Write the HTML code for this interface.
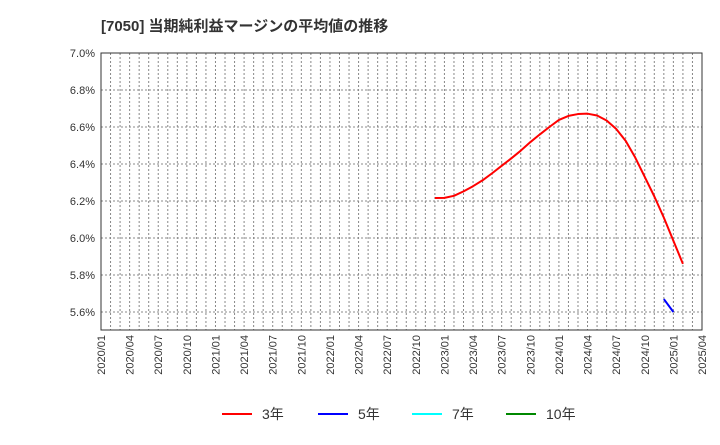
<!DOCTYPE html>
<html><head><meta charset="utf-8"><style>
body{margin:0;background:#fff;font-family:"Liberation Sans","Noto Sans CJK JP",sans-serif;}
</style></head><body>
<svg width="720" height="440" xmlns="http://www.w3.org/2000/svg" font-family="Liberation Sans, Noto Sans CJK JP, sans-serif">
<text x="101" y="31" font-size="15" font-weight="bold" fill="#333">[7050]  当期純利益マージンの平均値の推移</text>
<g id="grid"></g><g id="yt"></g><g id="xt"></g><g id="series"></g>
<rect x="101" y="53" width="601" height="277" fill="none" stroke="#333" stroke-width="1"/>
<g font-size="14" fill="#333">
<g><line x1="222" y1="414" x2="252" y2="414" stroke="#f00" stroke-width="2"/><text x="262" y="419">3年</text></g>
<g><line x1="318" y1="414" x2="348" y2="414" stroke="#00f" stroke-width="2"/><text x="358" y="419">5年</text></g>
<g><line x1="412" y1="414" x2="442" y2="414" stroke="#0ff" stroke-width="2"/><text x="452" y="419">7年</text></g>
<g><line x1="506" y1="414" x2="536" y2="414" stroke="#080" stroke-width="2"/><text x="546" y="419">10年</text></g>
</g>
</svg>
<script>
const yTicks=[5.6,5.8,6.0,6.2,6.4,6.6,6.8,7.0];
const xTickLabels=["2020/01","2020/04","2020/07","2020/10","2021/01","2021/04","2021/07","2021/10","2022/01","2022/04","2022/07","2022/10","2023/01","2023/04","2023/07","2023/10","2024/01","2024/04","2024/07","2024/10","2025/01","2025/04"];
const avg3Start=35; // months since 2020/01 (2022/12)
const avg3=[6.216,6.217,6.228,6.252,6.28,6.312,6.35,6.39,6.43,6.472,6.518,6.56,6.60,6.638,6.66,6.67,6.672,6.662,6.635,6.59,6.525,6.435,6.33,6.225,6.11,5.985,5.86];
const avg5Start=59; // 2024/12
const avg5=[5.67,5.60];
const NS="http://www.w3.org/2000/svg";
const X0=101,X1=702,Y0=53,Y1=330,YMIN=5.5027,YMAX=7.0,NM=63;
const xs=m=>X0+(X1-X0)*m/NM;
const ys=v=>Y1-(Y1-Y0)*(v-YMIN)/(YMAX-YMIN);
function mk(t,a,p){const e=document.createElementNS(NS,t);for(const k in a)e.setAttribute(k,a[k]);p.appendChild(e);return e;}
const grid=document.getElementById('grid');
for(let m=1;m<NM;m++){const l=mk('line',{x1:xs(m),x2:xs(m),y1:Y0,y2:Y1,stroke:'#888','stroke-dasharray':'2,2','stroke-width':1},grid);

}
const yt=document.getElementById('yt');
yTicks.forEach(v=>{const l=mk('line',{x1:X0,x2:X1,y1:ys(v),y2:ys(v),stroke:'#888','stroke-dasharray':'2,2','stroke-width':1},grid);


const t=mk('text',{x:X0-6,y:ys(v)+4,'text-anchor':'end','font-size':11,fill:'#333'},yt);t.textContent=v.toFixed(1)+'%';

});
const xt=document.getElementById('xt');
xTickLabels.forEach((s,i)=>{const x=xs(i*3);const t=mk('text',{x:0,y:0,transform:`translate(${x+4},${Y1+5}) rotate(-90)`,'text-anchor':'end','font-size':11,fill:'#333'},xt);t.textContent=s;

});
const sg=document.getElementById('series');
function line(arr,start,col,name){const p=mk('polyline',{points:arr.map((v,i)=>xs(start+i)+','+ys(v)).join(' '),fill:'none',stroke:col,'stroke-width':2,'stroke-linejoin':'round'},sg);

}
line(avg3,avg3Start,'#f00','series-3y');
line(avg5,avg5Start,'#00f','series-5y');
</script>
</body></html>
